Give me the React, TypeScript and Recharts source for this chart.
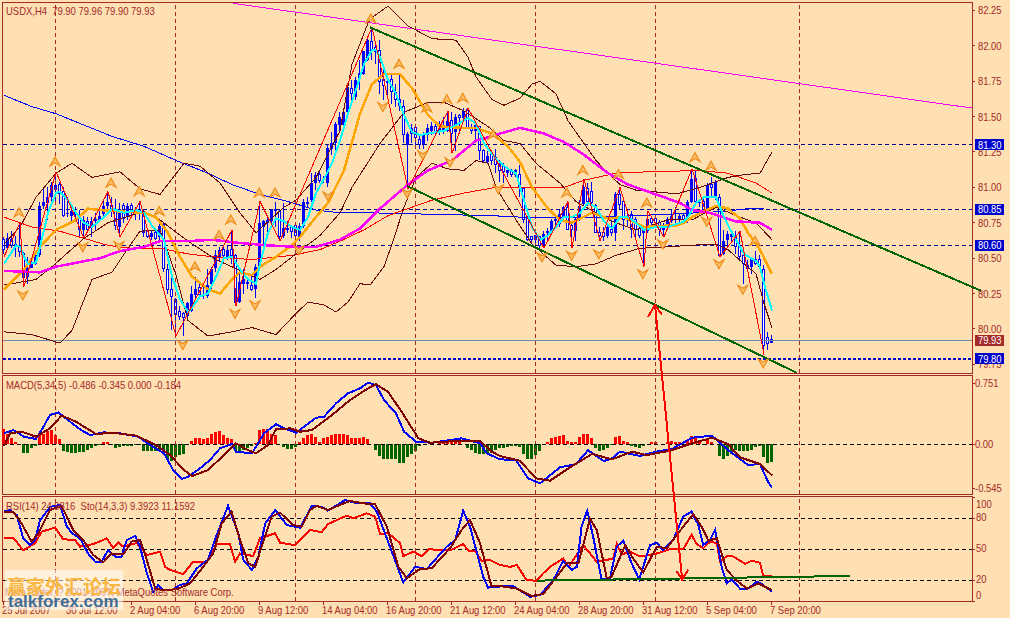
import React from "react";
import { ComposedChart, Line, Bar, XAxis, YAxis, ReferenceLine } from "recharts";

type Pt = [number, number];

const BG = "#FEE0B2";
const BROWN = "#A52A2A";
const FONT = "'Liberation Sans', Arial, sans-serif";
const FONT_SIZE = 10.5;
const SQUEEZE = 0.9;

// ---------- candles ----------
const opens = [80.63,80.57,80.63,80.60,80.59,80.53,80.37,80.43,80.46,80.52,80.87,80.89,80.93,80.98,81.02,80.97,80.81,80.80,80.82,80.80,80.70,80.76,80.71,80.76,80.77,80.81,80.87,80.87,80.83,80.72,80.87,80.79,80.87,80.82,80.82,80.82,80.69,80.65,80.68,80.65,80.74,80.42,80.28,80.21,80.12,80.11,80.09,80.13,80.24,80.29,80.23,80.23,80.32,80.43,80.51,80.56,80.51,80.56,80.52,80.19,80.32,80.32,80.31,80.28,80.44,80.72,80.75,80.76,80.83,80.83,80.66,80.70,80.72,80.73,80.65,80.73,80.88,80.91,81.03,81.09,81.05,81.03,81.27,81.31,81.44,81.44,81.53,81.70,81.64,81.77,81.80,81.90,82.03,81.99,81.97,81.76,81.75,81.76,81.67,81.62,81.57,81.30,81.38,81.42,81.34,81.30,81.37,81.40,81.43,81.39,81.39,81.40,81.47,81.39,81.51,81.49,81.55,81.42,81.40,81.43,81.26,81.18,81.23,81.21,81.16,81.15,81.10,81.12,81.09,81.09,80.99,80.79,80.65,80.66,80.65,80.59,80.68,80.69,80.76,80.74,80.79,80.86,80.73,80.69,80.77,80.88,80.99,80.97,80.87,80.68,80.68,80.66,80.70,80.68,80.95,80.90,80.77,80.81,80.77,80.71,80.68,80.69,80.78,80.78,80.75,80.70,80.72,80.76,80.77,80.77,80.80,80.76,80.90,81.06,80.89,80.90,80.85,81.02,80.93,80.93,80.53,80.63,80.65,80.66,80.58,80.52,80.45,80.44,80.49,80.49,80.42,79.94,79.90];
const highs = [80.65,80.68,80.69,80.66,80.75,80.54,80.51,80.51,80.53,80.90,81.00,81.00,81.04,81.11,81.04,81.00,80.93,80.86,80.86,80.84,80.80,80.79,80.79,80.82,80.84,80.91,80.97,80.93,80.92,80.89,80.89,80.89,80.89,80.86,80.90,80.84,80.70,80.70,80.69,80.77,80.75,80.46,80.36,80.22,80.16,80.12,80.19,80.30,80.37,80.32,80.32,80.42,80.44,80.56,80.58,80.59,80.59,80.70,80.53,80.40,80.42,80.35,80.38,80.46,80.90,80.77,80.80,80.85,80.90,80.84,80.89,80.76,80.73,80.75,80.75,80.92,80.93,81.10,81.11,81.12,81.08,81.30,81.39,81.46,81.53,81.55,81.73,81.76,81.78,81.90,81.96,82.05,82.13,82.01,82.04,81.83,81.78,81.80,81.73,81.79,81.62,81.39,81.45,81.44,81.37,81.39,81.45,81.46,81.46,81.47,81.50,81.54,81.53,81.52,81.52,81.56,81.56,81.45,81.47,81.43,81.27,81.26,81.26,81.27,81.19,81.17,81.14,81.13,81.13,81.16,81.00,80.80,80.66,80.66,80.66,80.69,80.71,80.78,80.79,80.84,80.87,80.90,80.75,80.79,80.91,81.06,81.03,81.04,80.88,80.72,80.72,80.73,80.77,80.97,81.00,80.91,80.84,80.83,80.79,80.75,80.70,80.83,80.80,80.80,80.77,80.75,80.79,80.85,80.86,80.82,80.82,80.91,81.13,81.12,80.92,80.93,81.03,81.07,81.05,80.95,80.70,80.69,80.69,80.69,80.69,80.52,80.49,80.51,80.55,80.52,80.45,79.98,79.96];
const lows = [80.53,80.56,80.57,80.51,80.51,80.30,80.32,80.43,80.45,80.51,80.85,80.77,80.86,80.90,80.88,80.79,80.79,80.75,80.77,80.66,80.64,80.68,80.65,80.70,80.76,80.80,80.83,80.79,80.70,80.65,80.75,80.77,80.79,80.77,80.77,80.65,80.64,80.63,80.63,80.63,80.40,80.25,79.99,79.95,80.06,79.95,80.06,80.12,80.21,80.22,80.21,80.22,80.28,80.40,80.47,80.46,80.49,80.46,80.16,80.18,80.25,80.28,80.27,80.22,80.42,80.60,80.67,80.75,80.72,80.62,80.64,80.68,80.64,80.64,80.62,80.71,80.86,80.90,80.98,81.03,81.03,81.00,81.23,81.24,81.40,81.40,81.52,81.58,81.62,81.69,81.79,81.89,81.90,81.87,81.66,81.62,81.65,81.59,81.57,81.54,81.31,80.99,81.31,81.29,81.27,81.27,81.33,81.37,81.36,81.37,81.38,81.39,81.24,81.26,81.39,81.47,81.42,81.38,81.33,81.19,81.17,81.17,81.16,81.10,81.04,81.03,81.07,81.07,81.07,80.93,80.75,80.62,80.60,80.60,80.57,80.57,80.63,80.68,80.71,80.72,80.78,80.70,80.57,80.62,80.76,80.87,80.87,80.83,80.68,80.62,80.62,80.64,80.66,80.62,80.85,80.70,80.72,80.64,80.63,80.64,80.44,80.68,80.72,80.73,80.66,80.65,80.71,80.75,80.75,80.75,80.75,80.75,80.89,80.89,80.86,80.82,80.83,80.93,80.91,80.51,80.52,80.57,80.62,80.53,80.48,80.32,80.40,80.39,80.45,80.42,79.82,79.85,79.90];
const closes = [80.56,80.64,80.59,80.58,80.55,80.36,80.43,80.47,80.52,80.87,80.90,80.93,81.02,81.02,80.96,80.80,80.82,80.83,80.81,80.70,80.77,80.70,80.76,80.78,80.80,80.87,80.90,80.83,80.73,80.85,80.78,80.87,80.83,80.84,80.85,80.68,80.65,80.68,80.64,80.73,80.43,80.28,80.23,80.10,80.09,80.08,80.18,80.25,80.28,80.24,80.25,80.31,80.42,80.52,80.56,80.52,80.56,80.52,80.19,80.33,80.35,80.33,80.28,80.44,80.75,80.76,80.77,80.85,80.85,80.65,80.71,80.71,80.69,80.66,80.73,80.90,80.90,81.03,81.09,81.05,81.06,81.28,81.31,81.45,81.50,81.53,81.71,81.66,81.76,81.81,81.96,82.04,81.97,81.96,81.75,81.72,81.74,81.68,81.62,81.58,81.37,81.38,81.42,81.35,81.30,81.37,81.42,81.43,81.39,81.42,81.42,81.47,81.38,81.50,81.49,81.54,81.42,81.40,81.44,81.26,81.19,81.22,81.19,81.16,81.12,81.11,81.12,81.09,81.12,81.00,80.77,80.63,80.63,80.63,80.59,80.67,80.69,80.76,80.78,80.81,80.86,80.70,80.70,80.78,80.87,81.00,80.90,80.89,80.68,80.66,80.65,80.72,80.68,80.95,80.88,80.77,80.80,80.70,80.70,80.66,80.70,80.78,80.75,80.75,80.70,80.73,80.78,80.80,80.78,80.80,80.77,80.90,81.06,80.90,80.90,80.84,81.02,81.00,81.04,80.52,80.62,80.67,80.67,80.58,80.51,80.46,80.43,80.50,80.46,80.44,79.88,79.90,79.93];

// ---------- price-window overlays, [bar, price] ----------
const zigzag: Pt[] = [[0,80.51],[4,80.75],[5,80.30],[13,81.11],[20,80.64],[26,80.97],[29,80.65],[34,80.90],[43,79.95],[57,80.70],[58,80.16],[64,80.90],[69,80.62],[92,82.13],[101,80.99],[111,81.54],[112,81.24],[116,81.56],[135,80.57],[141,80.90],[142,80.57],[145,81.06],[149,80.62],[154,81.00],[160,80.44],[161,80.83],[165,80.65],[172,81.13],[179,80.51],[184,80.69],[190,79.82]];
const cyanMa: Pt[] = [[0,80.46],[3,80.59],[4,80.58],[5,80.51],[6,80.46],[8,80.47],[9,80.58],[11,80.82],[13,80.96],[14,80.97],[16,80.91],[18,80.82],[20,80.75],[22,80.72],[25,80.79],[27,80.85],[30,80.82],[33,80.84],[35,80.82],[37,80.73],[40,80.63],[42,80.37],[44,80.21],[46,80.12],[47,80.15],[49,80.23],[51,80.25],[53,80.37],[55,80.50],[57,80.51],[59,80.42],[61,80.35],[63,80.32],[64,80.46],[66,80.68],[68,80.78],[70,80.76],[72,80.72],[74,80.70],[76,80.79],[78,80.96],[80,81.06],[82,81.17],[84,81.33],[86,81.52],[88,81.69],[90,81.87],[92,81.97],[93,81.97],[94,81.92],[96,81.76],[98,81.66],[100,81.51],[102,81.39],[104,81.37],[106,81.38],[110,81.40],[113,81.44],[116,81.49],[118,81.45],[120,81.31],[123,81.20],[126,81.13],[128,81.10],[130,80.91],[132,80.72],[134,80.63],[136,80.66],[138,80.72],[140,80.79],[142,80.79],[144,80.82],[146,80.89],[148,80.86],[150,80.76],[152,80.71],[154,80.79],[156,80.79],[158,80.75],[160,80.70],[163,80.72],[166,80.72],[170,80.76],[171,80.79],[173,80.89],[175,80.93],[178,80.93],[180,80.79],[182,80.68],[185,80.53],[188,80.48],[189,80.44],[190,80.32],[192,80.13]];
const orangeMa: Pt[] = [[0,80.28],[5,80.42],[9,80.58],[13,80.70],[18,80.77],[21,80.85],[24,80.84],[29,80.83],[35,80.82],[38,80.79],[41,80.68],[44,80.51],[47,80.37],[51,80.28],[54,80.25],[57,80.35],[59,80.40],[62,80.38],[64,80.44],[68,80.51],[72,80.59],[74,80.65],[78,80.79],[81,80.89],[85,81.12],[89,81.52],[92,81.73],[95,81.80],[99,81.80],[102,81.70],[106,81.51],[109,81.43],[115,81.42],[118,81.42],[122,81.38],[126,81.29],[129,81.18],[132,81.00],[136,80.85],[139,80.77],[142,80.75],[147,80.82],[151,80.78],[155,80.79],[160,80.72],[166,80.73],[168,80.73],[170,80.75],[172,80.79],[175,80.83],[178,80.87],[181,80.85],[184,80.78],[186,80.68],[189,80.56],[192,80.39]];
const magentaMa: Pt[] = [[0,80.41],[9,80.40],[13,80.44],[24,80.50],[29,80.55],[35,80.58],[39,80.62],[46,80.62],[52,80.63],[58,80.61],[66,80.59],[73,80.58],[78,80.58],[84,80.63],[89,80.71],[94,80.85],[101,81.02],[106,81.12],[112,81.19],[118,81.33],[124,81.38],[129,81.42],[135,81.38],[140,81.32],[145,81.23],[151,81.10],[156,81.02],[166,80.92],[169,80.89],[172,80.84],[176.5,80.82],[183,80.76],[189,80.75],[192,80.70]];
const redMa: Pt[] = [[0,80.79],[7,80.72],[14,80.69],[20,80.64],[26,80.59],[32,80.57],[39,80.57],[46,80.53],[52,80.51],[62,80.49],[72,80.52],[79,80.56],[84,80.62],[90,80.70],[96,80.80],[101,80.85],[107,80.91],[115,80.96],[123,81.00],[131.5,81.00],[140,81.00],[145,81.05],[153,81.10],[161,81.11],[164,81.11],[173,81.12],[181,81.10],[188,81.03],[192,80.96]];
const blueMa: Pt[] = [[0,81.65],[7,81.57],[13,81.52],[20,81.44],[27,81.36],[35,81.29],[43,81.19],[51,81.10],[57,81.02],[64,80.95],[71,80.90],[78,80.84],[84,80.82],[92,80.82],[107,80.81],[122,80.80],[129,80.79],[138,80.79],[150,80.79],[158,80.80],[166,80.81],[180,80.83],[186,80.85],[190,80.85]];
const bandUpper: Pt[] = [[0,80.60],[4,80.72],[8,80.93],[13,81.10],[17,81.17],[22,81.07],[29,81.11],[34,80.99],[39,80.95],[45,81.17],[49,81.15],[54,81.03],[59,80.82],[63,80.68],[70,80.86],[73,80.91],[78,81.07],[84,81.40],[87,81.87],[91,82.16],[92,82.20],[96,82.28],[101,82.14],[107,82.05],[113,82.04],[116,81.92],[118,81.78],[122,81.62],[125,81.58],[129,81.63],[132,81.73],[134,81.75],[138,81.66],[141,81.47],[145,81.31],[148,81.19],[151,81.10],[154,81.02],[158,80.98],[166,80.96],[169,80.96],[174,81.00],[181,81.07],[185,81.09],[189,81.10],[192,81.25]];
const bandMiddle: Pt[] = [[0,80.31],[8,80.35],[12,80.44],[20,80.64],[26,80.75],[35,80.83],[39,80.77],[46,80.62],[53,80.49],[64,80.35],[68,80.42],[73,80.53],[79,80.66],[84,80.82],[87,81.00],[94,81.31],[100,81.53],[106,81.60],[110,81.60],[115,81.54],[121,81.43],[125,81.33],[129,81.31],[133,81.17],[139,81.03],[143,80.90],[148,80.82],[152,80.76],[158,80.70],[166,80.77],[172,80.77],[178,80.86],[184,80.79],[188,80.75],[192,80.63]];
const bandLower: Pt[] = [[0,79.98],[7,79.96],[14,79.90],[17,79.99],[22,80.35],[27,80.40],[31,80.57],[34,80.69],[39,80.70],[43,80.38],[46,80.06],[51,79.95],[57,79.98],[62,80.01],[68,79.96],[73,80.11],[76,80.19],[80,80.17],[83,80.12],[86,80.19],[89,80.32],[91.5,80.31],[95,80.44],[97,80.60],[100,80.86],[103,81.07],[107,81.17],[111,81.13],[115,81.12],[118,81.19],[121,81.17],[123,81.00],[128,80.77],[132,80.60],[138,80.45],[143,80.44],[148,80.46],[153,80.52],[159,80.57],[166,80.58],[171,80.59],[178,80.60],[181,80.56],[185,80.46],[188,80.39],[190,80.18],[192,80.01]];
const fractalUp: Pt[] = [[3.75,80.82],[12.75,81.18],[26.75,81.03],[33.8,80.97],[38.8,80.83],[47.75,80.44],[53.75,80.66],[56.7,80.77],[63.8,80.96],[67.75,80.96],[91.7,82.19],[98.75,81.87],[105.7,81.56],[110.7,81.62],[114.7,81.63],[122.3,81.37],[140.7,80.96],[144.7,81.12],[153.6,81.09],[160.7,80.89],[172.75,81.21],[176.75,81.15],[187.75,80.62]];
const fractalDown: Pt[] = [[4.7,80.24],[19.7,80.58],[28.75,80.59],[44.7,79.89],[57.75,80.11],[62.75,80.17],[73.75,80.56],[81,80.94],[94.7,81.57],[100.8,80.96],[104.7,81.23],[111.5,81.18],[123.6,80.99],[134.5,80.51],[141.9,80.52],[148.7,80.53],[159.7,80.39],[164.7,80.60],[175.7,80.76],[178.75,80.46],[184.7,80.28],[189.8,79.76]];
const magentaTrend: Pt[] = [[57.25,82.30],[242,81.56]];
const greenUpper: Pt[] = [[91.5,82.13],[244.25,80.27]];
const greenLower: Pt[] = [[100.75,81.01],[198.25,79.69]];

const blueLevels = [81.30, 80.845, 80.59];
const lastPriceLine = 79.92;
const boldLevel = 79.788;
const priceTicks = [82.25, 82.0, 81.75, 81.5, 81.25, 81.0, 80.75, 80.5, 80.25, 80.0, 79.75];
const boxedLevels = [
  { value: 81.30, label: "81.30", fill: "#0000CD" },
  { value: 80.845, label: "80.85", fill: "#0000CD" },
  { value: 80.59, label: "80.60", fill: "#0000CD" },
  { value: 79.92, label: "79.93", fill: BROWN },
  { value: 79.788, label: "79.80", fill: "#0000CD" },
];
const gridBars = [12.875, 42.875, 72.875, 102.875, 132.875, 162.875, 198.875];
const xTickBars = [-0.25, 15.75, 31.75, 47.75, 63.75, 79.75, 95.75, 111.75, 127.75, 143.75, 159.75, 175.75, 191.75];
const xTickLabels = ["25 Jul 2007", "30 Jul 12:00", "2 Aug 04:00", "6 Aug 20:00", "9 Aug 12:00", "14 Aug 04:00", "16 Aug 20:00", "21 Aug 12:00", "24 Aug 04:00", "28 Aug 20:00", "31 Aug 12:00", "5 Sep 04:00", "7 Sep 20:00"];

// ---------- MACD ----------
const macdHist = [.18,.13,.07,.02,0,-.11,-.11,-.05,-.02,.11,.13,.16,.17,.11,.06,-.09,-.10,-.11,-.11,-.10,-.10,-.07,-.05,-.03,-.01,.03,.03,-.01,-.05,-.04,-.03,-.02,-.02,-.01,-.01,-.08,-.09,-.09,-.08,-.09,-.12,-.20,-.21,-.16,-.14,-.12,-.01,.04,.08,.08,.06,.07,.13,.15,.16,.11,.07,.06,-.09,-.10,-.07,-.05,-.03,.01,.17,.18,.18,.13,.11,0,-.04,-.06,-.06,-.04,.03,.07,.11,.12,.09,.03,.07,.09,.11,.12,.12,.12,.11,.08,.07,.07,.09,.06,0,-.07,-.15,-.19,-.19,-.19,-.19,-.24,-.24,-.16,-.12,-.09,-.02,0,0,.01,0,.02,.02,.03,.03,.02,.05,0,-.05,-.07,-.11,-.12,-.12,-.12,-.11,-.07,-.05,-.05,-.04,-.03,-.02,-.04,-.12,-.19,-.19,-.14,-.09,-.01,.03,.07,.09,.10,.11,.04,.02,.03,.09,.12,.12,.07,-.05,-.09,-.07,-.05,-.01,.09,.10,.04,.03,-.03,-.04,-.05,-.03,0,.03,.02,0,0,.03,.04,.03,.02,0,.05,.10,.07,.05,-.01,.05,.03,0,-.15,-.18,-.15,-.12,-.07,-.09,-.09,-.09,-.07,-.04,-.02,-.16,-.23,-.22];
const macdMain: Pt[] = [[0,.132],[2.3,.173],[5,.091],[8,.062],[9.4,.173],[11.5,.358],[13.6,.391],[16,.296],[19,.181],[21.5,.111],[25,.144],[29,.132],[33.6,.091],[36.5,-.012],[40,-.115],[42.3,-.321],[44.4,-.432],[46,-.403],[49,-.300],[51.5,-.198],[54,-.053],[57,0],[58,-.095],[62,-.115],[65,.132],[68,.243],[70.7,.181],[73,.140],[78,.325],[80,.337],[83,.502],[86,.626],[89,.687],[91,.757],[93,.728],[95,.543],[98,.379],[100,.152],[103,.029],[107,.016],[114.4,.070],[119,.008],[120.7,-.115],[124,-.189],[128,-.198],[131,-.424],[134,-.486],[139,-.288],[143,-.247],[146,-.078],[150,-.210],[152,-.177],[154,-.095],[159,-.148],[163,-.095],[167,-.062],[172,.078],[177,.103],[181,-.074],[186,-.259],[189,-.247],[191,-.465],[192,-.539]];
const macdSignal: Pt[] = [[0,-.025],[1.5,.132],[4.4,.152],[8,.091],[11.5,.193],[14.4,.350],[18,.276],[23,.123],[27,.140],[33,.103],[38,-.012],[41.5,-.136],[45,-.321],[47,-.395],[51,-.321],[55,-.136],[58,.008],[61,-.074],[63,-.115],[66,-.012],[68,.181],[71.5,.193],[74,.152],[77,.173],[82,.358],[86.5,.543],[91,.687],[93,.737],[96,.646],[99.4,.399],[103.6,.070],[106.5,.016],[114,.041],[119,.037],[122,-.095],[124,-.148],[129,-.206],[133,-.424],[136.5,-.453],[141.5,-.288],[147,-.123],[152,-.189],[157,-.095],[160.7,-.136],[166.5,-.082],[172,.008],[177,.078],[181,0],[184,-.165],[189,-.247],[192,-.387]];
const macdTicks = [0.751, 0, -0.545];
const macdTickLabels = ["0.751", "0.00", "-0.545"];

// ---------- RSI / Stochastic ----------
const stochK: Pt[] = [[0,86.5],[1.5,88],[3.2,83],[4.8,60.6],[6.5,54],[7.8,59],[9,78],[11.5,91],[14,93],[15.7,72],[17,65.5],[19,60.6],[21,46],[22.8,38],[24.4,38],[26,49],[27.8,43],[29.4,43],[30.7,59],[32.8,63],[34,52.6],[35.7,27],[37.3,9],[38.6,15.5],[39.8,10.6],[42,10.6],[44,15.5],[45.7,17],[48.2,31.6],[51,40],[53.2,64],[56,92],[58.6,65.5],[59.8,40],[62,30],[63.6,43],[65.3,75],[67.8,88],[70.7,73.5],[74,71],[77,92],[79.4,91],[81,87.4],[85.3,97.7],[88.2,94.5],[91.5,94.5],[93.2,86.5],[96.5,52.6],[99.8,18],[102.8,33],[105.7,31],[110.7,52.6],[112.8,59],[114.8,87.4],[116.5,72],[119.8,23.5],[121,13],[124,14],[127.3,14.5],[131.5,4],[134,5.8],[137.3,20],[139.8,39],[141.9,30],[143.2,33],[144.4,72],[145.8,87.4],[147.3,62],[149.4,21],[151.5,22],[153.2,52.6],[154.8,58.4],[156.9,36.5],[158.8,21],[161.5,54],[163.2,56.5],[164.8,49],[167.3,59],[169.8,81.6],[171.9,86.5],[173.6,73.5],[174.8,54],[176.5,59],[177.8,68.7],[179.4,33],[180.7,17],[181.9,21],[184,12],[186,12],[188.2,18.7],[189.8,15.5],[191.9,9]];
const stochD: Pt[] = [[0,86.5],[2.3,86.5],[4.4,75],[6.9,57.4],[8.6,65.5],[11.5,88],[14.4,92],[17.3,68.7],[19.8,59],[22.3,44.5],[24.8,37.4],[26.9,46],[29.8,45],[31.9,57.4],[34,59],[35.7,39.7],[37.8,12],[39.8,10.6],[43.2,11.3],[46.5,17],[49.8,33],[52.3,46],[54.4,75],[56.9,86.5],[59,59],[61.1,36.5],[62.8,33],[64.4,52.6],[66.9,81.6],[69,85.5],[72.3,73.5],[74.4,72],[76.5,88],[78.2,92],[81,88],[84,93],[86.5,96.8],[89.8,94.5],[92.8,93.5],[95.7,72],[98.6,33],[100.7,22],[104,31],[106.9,31.6],[111.5,51],[114.4,68.7],[116.5,78.4],[119,56],[121.9,14],[124,14.5],[128.2,12],[131.9,4.8],[134.8,6.8],[138.2,23.5],[140.7,36.5],[143.6,36.5],[146.5,79.4],[148.2,68.7],[150.7,22],[151.9,23.5],[155.3,54],[157.3,41],[159.8,27.7],[163.2,52.6],[165.7,51],[168.2,64],[172.3,84],[174.4,72],[176.1,58.4],[178.2,60.6],[180.7,30],[183.2,19.7],[185.7,12],[188.6,17],[191.9,10.6]];
const rsiLine: Pt[] = [[0,60.6],[2.3,61.3],[4.8,49],[7.8,56],[9.4,67],[12.8,71],[14.8,59.7],[17.8,59],[19,52.6],[22.3,55],[25.7,60.6],[27.3,51],[28.6,56.5],[29.8,52.6],[33.2,56],[35.7,44.5],[39,47.7],[40.3,33],[41.5,30],[44.8,26],[47.3,38],[50.7,38],[53.2,55],[56.5,55],[57.8,38],[59,46],[62.3,43.5],[64,60.6],[67.8,65.5],[69,56.5],[72.8,54],[76.5,68.7],[79.4,66.5],[81,74.5],[85.7,82.6],[87.3,80],[90.7,84.8],[92.8,81.6],[94,65],[96.1,65.5],[99,56],[99.8,43.5],[102.3,47.7],[104.4,43.5],[106.1,50],[111.5,49],[114.8,55],[116.1,48.7],[117.8,48.7],[119.4,39],[121.5,39.7],[124,34.8],[126.5,33],[128.2,34.8],[130.7,20],[133.2,19.7],[134.8,26.8],[136.9,34],[139.8,41],[141.1,33],[144.8,54],[148.2,38],[152.3,41],[153.2,55],[154.4,45],[156.5,47.7],[159,43],[163.2,46],[166.5,50],[169.8,50],[171.9,64],[173.2,55],[174.8,51],[176.5,57.4],[178.2,56],[179,38],[180.7,43.5],[182.3,43],[185.3,36],[186.9,39],[189,37],[189.8,24],[191.9,24]];
const rsiTrend: Pt[] = [[133.2,19.7],[211.5,24.2]];
const rsiLevels = [80, 50, 20];
const rsiTicks = [100, 80, 50, 20, 0];

// ---------- red arrow annotation, [bar, price on the main scale continued down the page] ----------
const arrowShaft: Pt[] = [[162.75,80.17],[169.5,78.24]];
const arrowHeadTop: Pt[] = [[161,80.085],[162.75,80.17],[164.5,80.10]];
const arrowHeadBottom: Pt[] = [[168.2,78.29],[169.5,78.23],[171.1,78.30]];

// ---------- table building ----------
function buildRows(cols: Record<string, Pt[]>) {
  const byBar = new Map<number, any>();
  Object.keys(cols).forEach((key) => {
    cols[key].forEach(([x, v]) => {
      if (!byBar.has(x)) byBar.set(x, { x });
      byBar.get(x)[key] = v;
    });
  });
  return Array.from(byBar.values()).sort((a, b) => a.x - b.x);
}
const indexed = (vals: number[]): Pt[] => vals.map((v, i) => [i, v]);

const mainRows = buildRows({
  open: indexed(opens), high: indexed(highs), low: indexed(lows), close: indexed(closes),
  zigzag, cyanMa, orangeMa, magentaMa, redMa, blueMa, bandUpper, bandMiddle, bandLower,
  fractalUp, fractalDown, magentaTrend, greenUpper, greenLower,
});
const macdRows = buildRows({ hist: indexed(macdHist), macdMain, macdSignal });
const rsiRows = buildRows({ stochK, stochD, rsiLine, rsiTrend, edge: [[245.25, 0]] });
const arrowRows = buildRows({ arrowShaft, arrowHeadTop, arrowHeadBottom });

// ---------- shapes and ticks ----------
const hlRange = (r: any) => (r.high == null ? null : [r.low, r.high]);

const Candle = (p: any) => {
  const r = p.payload;
  if (!r || r.high == null || !isFinite(p.y) || !isFinite(p.height)) return null;
  const cx = Math.floor(p.x + p.width / 2);
  const yOf = (v: number) => p.y + ((r.high - v) / (r.high - r.low)) * p.height;
  const top = yOf(Math.max(r.open, r.close));
  const bot = yOf(Math.min(r.open, r.close));
  const bull = r.close >= r.open;
  return (
    <g shapeRendering="crispEdges">
      <line x1={cx + 0.5} x2={cx + 0.5} y1={p.y} y2={p.y + p.height} stroke="#0000FF" strokeWidth={1} />
      {bull ? (
        <rect x={cx - 1} y={top} width={3} height={Math.max(bot - top, 1)} fill="#0000FF" />
      ) : (
        <rect x={cx - 0.5} y={top} width={2} height={Math.max(bot - top, 1)} fill="#FFFFFF" stroke="#0000FF" strokeWidth={1} />
      )}
    </g>
  );
};

const HistBar = (p: any) => {
  const r = p.payload;
  if (!r || r.hist == null || !isFinite(p.y) || !isFinite(p.height)) return null;
  const cx = Math.floor(p.x + p.width / 2);
  const y = Math.min(p.y, p.y + p.height);
  return <rect x={cx - 1} y={y} width={3} height={Math.abs(p.height)} fill={r.hist >= 0 ? "#FF0000" : "#006400"} shapeRendering="crispEdges" />;
};

const chevron = (up: boolean) => (p: any) => {
  if (p.cy == null || !isFinite(p.cy) || p.value == null) return <g key={p.index} />;
  const s = up ? 1 : -1;
  const d = `M0,${-5 * s} L5,${4 * s} L0,${1 * s} L-5,${4 * s} Z`;
  return <path key={p.index} transform={`translate(${p.cx},${p.cy})`} d={d} fill="#FBBF6A" stroke="#EE8A14" strokeWidth={1.1} shapeRendering="auto" />;
};
const ChevronUp = chevron(true);
const ChevronDown = chevron(false);

const AXIS_X = 972;
const Label = ({ x, y, fill = BROWN, children }: any) => (
  <text transform={`translate(${x},${y}) scale(${SQUEEZE},1)`} fontFamily={FONT} fontSize={FONT_SIZE} fill={fill}>{children}</text>
);

const PriceTick = (p: any) => {
  const v = p.payload.value;
  const box = boxedLevels.find((b) => b.value === v);
  if (box) {
    return (
      <g>
        <rect x={AXIS_X + 3} y={p.y - 5.5} width={29} height={11} fill={box.fill} shapeRendering="crispEdges" />
        <Label x={AXIS_X + 6} y={p.y + 4} fill="#FFFFFF">{box.label}</Label>
      </g>
    );
  }
  return (
    <g>
      <line x1={AXIS_X} x2={AXIS_X + 3} y1={p.y} y2={p.y} stroke={BROWN} />
      <Label x={AXIS_X + 6} y={p.y + 4}>{v.toFixed(2)}</Label>
    </g>
  );
};
const MacdTick = (p: any) => {
  const v = p.payload.value;
  return (
    <g>
      <line x1={AXIS_X} x2={AXIS_X + 3} y1={p.y} y2={p.y} stroke={BROWN} />
      <Label x={AXIS_X + 3} y={p.y + 4}>{macdTickLabels[macdTicks.indexOf(v)]}</Label>
    </g>
  );
};
const RsiTick = (p: any) => {
  const v = p.payload.value;
  const shift = v === 100 ? 6 : v === 0 ? -6 : -1;
  return (
    <g>
      <line x1={AXIS_X} x2={AXIS_X + 3} y1={p.y} y2={p.y} stroke={BROWN} />
      <Label x={AXIS_X + 4} y={p.y + 4 + shift}>{v}</Label>
    </g>
  );
};
const TimeTick = (p: any) => {
  const i = xTickBars.indexOf(p.payload.value);
  return (
    <g>
      <line x1={p.x} x2={p.x} y1={601} y2={605} stroke={BROWN} />
      <Label x={p.x - 1} y={614}>{xTickLabels[i]}</Label>
    </g>
  );
};

const xDomain: [number, number] = [-0.25, 245.25];
const chartStyle: React.CSSProperties = { position: "absolute", left: 0, top: 0, shapeRendering: "crispEdges" };
const grid = gridBars.map((b) => (
  <ReferenceLine key={`g${b}`} x={b} stroke={BROWN} strokeDasharray="4 3" />
));
const levelSeg = (y: number, color: string, width = 1, dash = "4 3") => (
  <ReferenceLine
    key={`l${y}`}
    segment={[{ x: -0.25, y }, { x: 242, y }]}
    stroke={color}
    strokeWidth={width}
    strokeDasharray={dash}
  />
);
const ln = (key: string, stroke: string, width: number) => (
  <Line key={key} dataKey={key} stroke={stroke} strokeWidth={width} dot={false} connectNulls isAnimationActive={false} legendType="none" />
);

const frame = (top: number, height: number): React.CSSProperties => ({
  position: "absolute", left: 2, top, width: 971, height, border: `1px solid ${BROWN}`, boxSizing: "border-box",
});
const labelStyle = (left: number, top: number): React.CSSProperties => ({
  position: "absolute", left, top, color: BROWN, fontFamily: FONT, fontSize: FONT_SIZE, whiteSpace: "pre", lineHeight: "12px",
  transform: `scaleX(${SQUEEZE})`, transformOrigin: "left top",
});

export default function App() {
  return (
    <div style={{ position: "absolute", left: 0, top: 0, width: 1010, height: 618, background: BG, overflow: "hidden" }}>
      <div style={frame(2, 372)} />
      <div style={frame(375, 120)} />
      <div style={frame(496, 106)} />

      <ComposedChart width={1010} height={618} data={mainRows} style={chartStyle}
        margin={{ left: 3, top: 3, right: 0, bottom: 245 }}>
        <XAxis dataKey="x" type="number" domain={xDomain} hide />
        <YAxis orientation="right" width={25} domain={[79.689, 82.302]} allowDataOverflow
          ticks={[...priceTicks, ...boxedLevels.map((b) => b.value)]} interval={0}
          axisLine={false} tickLine={false} tick={PriceTick} />
        {grid}
        {blueLevels.map((v) => levelSeg(v, "#00008B"))}
        {levelSeg(lastPriceLine, "#6F8BA8", 1, "0")}
        {levelSeg(boldLevel, "#0000CD", 2, "3 2")}
        {ln("magentaTrend", "#FF00FF", 1)}
        {ln("blueMa", "#0000FF", 1)}
        <Bar dataKey={hlRange} barSize={3} shape={Candle} isAnimationActive={false} legendType="none" />
        {ln("redMa", "#FF0000", 1)}
        {ln("bandUpper", "#6B0A0A", 1)}
        {ln("bandMiddle", "#6B0A0A", 1)}
        {ln("bandLower", "#6B0A0A", 1)}
        {ln("orangeMa", "#FFA500", 2.5)}
        {ln("magentaMa", "#FF00FF", 2.5)}
        {ln("cyanMa", "#00FFFF", 2)}
        {ln("zigzag", "#FF0000", 1)}
        {ln("greenUpper", "#006400", 2)}
        {ln("greenLower", "#006400", 2)}
        <Line dataKey="fractalUp" stroke="none" dot={ChevronUp} isAnimationActive={false} legendType="none" />
        <Line dataKey="fractalDown" stroke="none" dot={ChevronDown} isAnimationActive={false} legendType="none" />
      </ComposedChart>

      <ComposedChart width={1010} height={618} data={macdRows} style={chartStyle}
        margin={{ left: 3, top: 376, right: 0, bottom: 124 }}>
        <XAxis dataKey="x" type="number" domain={xDomain} hide />
        <YAxis orientation="right" width={25} domain={[-0.617, 0.84]} allowDataOverflow
          ticks={macdTicks} interval={0} axisLine={false} tickLine={false} tick={MacdTick} />
        {grid}
        {levelSeg(0, "#000000")}
        <Bar dataKey="hist" barSize={3} shape={HistBar} isAnimationActive={false} legendType="none" />
        {ln("macdMain", "#0000FF", 2)}
        {ln("macdSignal", "#800000", 2)}
      </ComposedChart>

      <ComposedChart width={1010} height={618} data={rsiRows} style={chartStyle}
        margin={{ left: 3, top: 497, right: 0, bottom: 0 }}>
        <XAxis dataKey="x" type="number" domain={xDomain} height={17} ticks={xTickBars} interval={0}
          axisLine={false} tickLine={false} tick={TimeTick} />
        <YAxis orientation="right" width={25} domain={[0, 100.6]} allowDataOverflow
          ticks={rsiTicks} interval={0} axisLine={false} tickLine={false} tick={RsiTick} />
        {grid}
        {rsiLevels.map((v) => levelSeg(v, "#000000"))}
        {ln("rsiLine", "#FF0000", 2)}
        {ln("stochK", "#0000FF", 2)}
        {ln("stochD", "#800000", 2)}
        {ln("rsiTrend", "#006400", 2)}
      </ComposedChart>

      <ComposedChart width={1010} height={618} data={arrowRows} style={{ ...chartStyle, pointerEvents: "none" }}
        margin={{ left: 3, top: 3, right: 25, bottom: 0 }}>
        <XAxis dataKey="x" type="number" domain={xDomain} hide />
        <YAxis domain={[77.959, 82.302]} hide allowDataOverflow />
        {ln("arrowShaft", "#FF0000", 2)}
        {ln("arrowHeadTop", "#FF0000", 2)}
        {ln("arrowHeadBottom", "#FF0000", 2)}
      </ComposedChart>

      <div style={labelStyle(6, 5)}>{"USDX,H4  79.90 79.96 79.90 79.93"}</div>
      <div style={labelStyle(6, 379)}>{"MACD(5,34,5) -0.486 -0.345 0.000 -0.184"}</div>
      <div style={labelStyle(6, 500)}>{"RSI(14) 24.9816  Sto(14,3,3) 9.3923 11.1592"}</div>
      <div style={labelStyle(5, 586)}>{"MetaTrader, ? 2001-2007, MetaQuotes Software Corp."}</div>

      <div style={{ position: "absolute", left: 5, top: 570, width: 118, height: 40, background: "rgba(255,255,255,0.55)" }} />
      <div style={{ position: "absolute", left: 7, top: 575, fontFamily: "'Noto Sans CJK SC'", fontWeight: 700, fontSize: 19, lineHeight: "22px", color: "#F9B233", whiteSpace: "pre", opacity: 0.9 }}>赢家外汇论坛</div>
      <div style={{ position: "absolute", left: 8, top: 592, fontFamily: "'Liberation Sans', Arial, sans-serif", fontWeight: 700, fontSize: 17, lineHeight: "20px", color: "#3F6F97", whiteSpace: "pre" }}>talkforex.com</div>
    </div>
  );
}
